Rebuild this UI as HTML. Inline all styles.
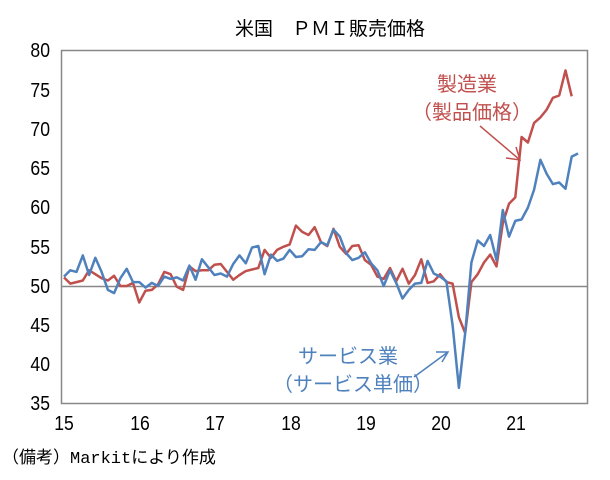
<!DOCTYPE html><html><head><meta charset="utf-8"><style>
body{margin:0;background:#fff;width:610px;height:475px;overflow:hidden}
svg text{font-family:"Liberation Sans","Noto Sans CJK JP",sans-serif}
</style></head><body>
<svg id="s" width="610" height="475" xmlns="http://www.w3.org/2000/svg">
<text x="330" y="35" font-size="19" text-anchor="middle">米国　ＰＭＩ販売価格</text>
<rect x="61.5" y="50.5" width="526" height="353" fill="none" stroke="#888" stroke-width="1.5"/>
<line x1="61" y1="286.5" x2="588" y2="286.5" stroke="#888" stroke-width="1.5"/>
<g font-size="20" text-anchor="end" fill="#000" transform="translate(50,0) scale(0.88,1) translate(-50,0)">
<text x="50" y="57">80</text><text x="50" y="97">75</text><text x="50" y="136">70</text><text x="50" y="175">65</text><text x="50" y="214">60</text><text x="50" y="254">55</text><text x="50" y="293">50</text><text x="50" y="332">45</text><text x="50" y="371">40</text><text x="50" y="410">35</text>
</g>
<g font-size="20" text-anchor="middle">
<text x="64" y="430" transform="translate(64,0) scale(0.88,1) translate(-64,0)">15</text>
<text x="140" y="430" transform="translate(140,0) scale(0.88,1) translate(-140,0)">16</text>
<text x="215" y="430" transform="translate(215,0) scale(0.88,1) translate(-215,0)">17</text>
<text x="291" y="430" transform="translate(291,0) scale(0.88,1) translate(-291,0)">18</text>
<text x="366" y="430" transform="translate(366,0) scale(0.88,1) translate(-366,0)">19</text>
<text x="441" y="430" transform="translate(441,0) scale(0.88,1) translate(-441,0)">20</text>
<text x="516" y="430" transform="translate(516,0) scale(0.88,1) translate(-516,0)">21</text>
</g>
<text x="2" y="463" font-size="17" style="font-family:'Liberation Mono','Noto Sans CJK JP',monospace">（備考）Markitにより作成</text>
<g fill="#c0504d" font-size="20"><text x="437" y="91">製造業</text><text x="412" y="119">（製品価格）</text></g>
<path d="M480 126 L520 160 M506 158 L520 160 L516 147" stroke="#c0504d" stroke-width="1.5" fill="none"/>
<g fill="#4f81bd" font-size="20"><text x="298" y="363">サービス業</text><text x="273" y="391">（サービス単価）</text></g>
<path d="M414 377 L448 352 M436 352 L448 352 L442 362" stroke="#4f81bd" stroke-width="1.5" fill="none"/>
<polyline id="r" fill="none" stroke="#c0504d" stroke-width="2.5" stroke-linejoin="round"/>
<polyline id="b" fill="none" stroke="#4f81bd" stroke-width="2.5" stroke-linejoin="round"/>
</svg>
<script>
var B=[51.2,52,51.8,53.9,51.4,53.6,51.8,49.5,49.1,51,52.2,50.5,
50.5,49.8,50.4,50.0,51.2,50.9,51.1,50.7,52.6,50.8,53.4,52.4,
51.4,51.6,51.2,52.8,53.9,52.9,54.9,55.1,51.5,54.0,53.2,53.5,
54.6,53.7,53.8,54.7,54.6,55.6,55.2,57.2,56.3,54.2,53.3,53.6,
54.3,52.9,52.0,50.0,52.0,50.4,48.4,49.5,50.3,50.4,53.2,51.6,
51.2,50.6,45,37,44,53,55.8,55.1,56.5,53.3,59.7,56.3,
58.3,58.5,60,62.3,66.1,64.3,63,63.2,62.4,66.5,66.9];
var R=[51.1,50.3,50.5,50.7,52.0,51.5,51.0,50.7,51.3,50.0,50.0,50.4,
47.9,49.4,49.5,50.2,51.8,51.5,49.9,49.5,52.5,51.9,52.0,52.0,
52.7,52.8,51.8,50.8,51.4,51.9,52.1,52.3,54.6,53.6,54.6,55.0,
55.3,57.7,56.9,56.5,57.5,55.6,55.1,57.3,55.0,54.1,55.1,55.2,
53.3,52.7,51.2,50.9,52.3,50.6,52.2,50.3,51.4,53.4,50.4,50.6,
51.5,50.5,50.3,46,44,50.5,51.5,53,54,52.5,58,60.5,
61.3,69,68.3,70.8,71.5,72.5,74,74.3,77.5,74.2];
function pts(a){return a.map(function(v,i){return (64+i*(578-64)/(B.length-1)).toFixed(1)+","+(286-(v-50)*7.84).toFixed(1)}).join(" ")}
document.getElementById("b").setAttribute("points",pts(B));
document.getElementById("r").setAttribute("points",pts(R));
</script>
</body></html>
